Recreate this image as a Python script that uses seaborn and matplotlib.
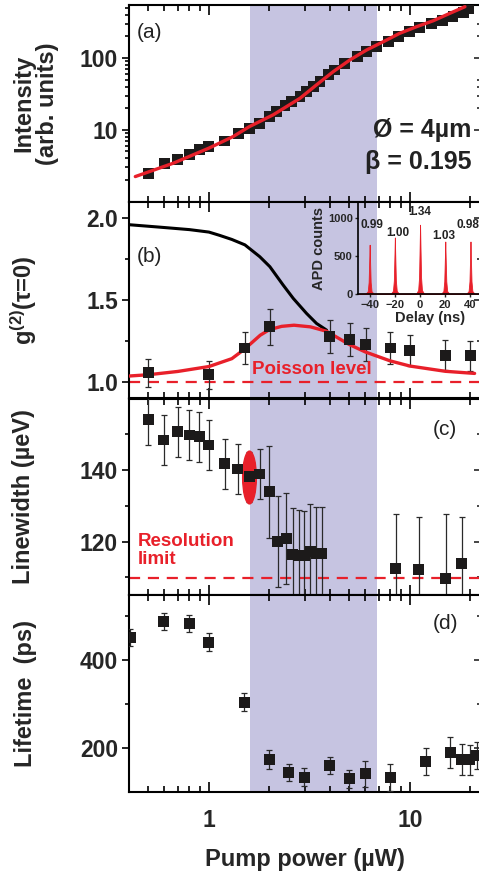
import numpy as np
import matplotlib
matplotlib.use("Agg")
import matplotlib.pyplot as plt
from matplotlib.path import Path
from matplotlib.ticker import FixedLocator, NullFormatter, LogLocator
import seaborn as sns

# ---------------- data ----------------
# (a) intensity vs pump power
pa_power = [0.50, 0.60, 0.70, 0.80, 0.90, 1.00, 1.20, 1.40, 1.59, 1.79, 2.00, 2.17, 2.39,
            2.58, 2.84, 3.06, 3.30, 3.57, 3.92, 4.23, 4.75, 5.50, 6.09, 6.83, 7.80, 8.75,
            10.0, 11.2, 12.8, 14.6, 16.4, 18.5, 19.6]
pa_int = [2.5, 3.4, 3.9, 4.5, 5.3, 5.9, 7.0, 9.0, 10.5, 12.4, 15.3, 18.0, 21.5,
          24.7, 29, 34, 40, 47, 58, 68, 84, 104, 122, 144, 169, 198,
          232, 267, 297, 330, 375, 426, 480]
pa_err = [0.3, 0.4, 0.45, 0.5, 0.55, 0.6, 0.7, 0.9, 1.0, 1.2, 1.5, 1.8, 2.1,
          2.4, 2.9, 3.4, 4, 4.7, 5.8, 6.8, 8.4, 10, 12, 14, 17, 20,
          23, 27, 30, 33, 37, 42, 48]
fit_a_power = [0.43, 0.665, 1.0, 1.32, 1.59, 2.09, 2.84, 3.43, 4.16, 5.03, 6.09, 7.37,
               8.9, 10.8, 13.1, 15.8, 18.8]
fit_a_int = [2.24, 3.44, 5.57, 8.07, 11.1, 16.2, 27.5, 42.2, 64.6, 93.8, 129, 168,
             220, 272, 330, 417, 516]

# (b) g2(0) vs pump power
pb_power = [0.5, 1.0, 1.51, 2.01, 4.0, 5.03, 6.04, 8.0, 10.0, 15.0, 20.0]
pb_g2 = [1.058, 1.045, 1.208, 1.337, 1.276, 1.26, 1.229, 1.208, 1.192, 1.163, 1.16]
pb_err = [0.085, 0.085, 0.10, 0.11, 0.10, 0.10, 0.10, 0.10, 0.095, 0.092, 0.09]
fit_b_power = [0.4, 0.5, 0.7, 1.0, 1.3, 1.5, 1.8, 2.0, 2.3, 2.65, 3.2, 3.85, 5.0, 6.0,
               8.0, 10, 15, 21]
fit_b_g2 = [1.037, 1.045, 1.065, 1.095, 1.143, 1.2, 1.286, 1.32, 1.34, 1.347, 1.337,
            1.31, 1.229, 1.184, 1.129, 1.098, 1.066, 1.053]
therm_power = [0.4, 0.57, 0.8, 1.0, 1.13, 1.3, 1.51, 1.79, 2.01, 2.34, 2.63, 3.06, 3.43, 3.85]
therm_g2 = [1.96, 1.945, 1.93, 1.915, 1.895, 1.87, 1.837, 1.765, 1.704, 1.592, 1.51,
            1.419, 1.358, 1.317]
poisson_level = 1.0

# inset: correlation histogram
inset_delay = [-49, -43, -41.5, -40.8, -40.3, -40, -39.7, -39.2, -38.5, -37,
               -23, -21.5, -20.8, -20.3, -20, -19.7, -19.2, -18.5, -17,
               -3, -1.5, -0.8, -0.3, 0, 0.3, 0.8, 1.5, 3,
               17, 18.5, 19.2, 19.7, 20, 20.3, 20.8, 21.5, 23,
               37, 38.5, 39.2, 39.7, 40, 40.3, 40.8, 41.5, 43, 60]
inset_counts = [8, 12, 40, 160, 460, 650, 460, 160, 40, 12,
                12, 45, 180, 520, 745, 520, 180, 45, 12,
                12, 55, 220, 640, 912, 640, 220, 55, 12,
                12, 42, 170, 480, 692, 480, 170, 42, 12,
                12, 42, 170, 480, 692, 480, 170, 42, 12, 8]
peak_lbl_delay = [-38, -18, 0, 19, 37.8]
peak_lbl_counts = [910, 800, 1085, 760, 910]
peak_lbl_text = ["0.99", "1.00", "1.34", "1.03", "0.98"]

# (c) linewidth vs pump power
pc_power = [0.5, 0.597, 0.70, 0.80, 0.895, 1.0, 1.2, 1.39, 1.59, 1.79, 2.0, 2.2, 2.42,
            2.61, 2.8, 2.98, 3.2, 3.41, 3.64, 8.5, 11.1, 15.05, 18.1]
pc_lw = [154.1, 148.4, 150.7, 149.8, 149.3, 147.0, 141.7, 140.3, 138.1, 138.9, 133.9,
         120.0, 120.9, 116.3, 116.0, 116.0, 117.2, 116.6, 116.6, 112.6, 112.1, 109.6, 114.0]
pc_err = [7, 7, 7, 7, 7, 7, 7, 7, 7, 7, 12.8, 12.8, 12.8, 13, 12.8, 12.6, 13.2, 13.1, 13.1,
          15, 14.8, 18, 12.9]
resolution_limit = 109.8
highlight_power = [1.59]
highlight_lw = [138.1]

# (d) lifetime vs pump power
pd_power = [0.405, 0.597, 0.80, 1.0, 1.50, 2.0, 2.5, 2.98, 4.0, 5.0, 6.0, 8.0, 11.97,
            15.9, 18.1, 19.9, 21.5]
pd_life = [450.5, 486.7, 483, 440, 304.2, 175.1, 144.9, 134.4, 160.9, 130.8, 142, 133.7,
           170, 190.4, 175.1, 173.6, 183.4]
pd_err = [19, 19, 19, 20, 20, 21, 19, 20, 20, 20, 30, 30, 30, 36, 35, 34, 30]

shade_span = (1.6, 6.85)

# ---------------- style ----------------
sns.set_theme(style="ticks")
plt.rcParams["font.family"] = ["Liberation Sans", "DejaVu Sans"]
plt.rcParams["font.weight"] = "bold"
plt.rcParams["axes.labelweight"] = "bold"
plt.rcParams["mathtext.fontset"] = "custom"
plt.rcParams["mathtext.rm"] = "Liberation Sans:bold"
plt.rcParams["mathtext.it"] = "Liberation Sans:bold"

RED = "#e8202a"
SHADE = "#c6c4e1"
SQ = "#1c1a1a"
TICK_FS = 16.5
LAB_FS = 17

fig = plt.figure(figsize=(4.79, 8.73), dpi=100)
left, width = 129 / 479, 352 / 479
h = 196.75 / 873
bottoms = [(873 - 5) / 873 - h * (i + 1) for i in range(4)]
axes = [fig.add_axes([left, b, width, h]) for b in bottoms]
ax_a, ax_b, ax_c, ax_d = axes

for ax in axes:
    ax.set_xscale("log")
    ax.set_xlim(0.4, 22.6)
    ax.axvspan(*shade_span, color=SHADE, lw=0, zorder=0)
    for s in ax.spines.values():
        s.set_linewidth(1.5)
        s.set_color("black")
    ax.xaxis.set_major_locator(FixedLocator([1, 10]))
    ax.xaxis.set_minor_locator(LogLocator(base=10, subs=np.arange(2, 10)))
    ax.xaxis.set_minor_formatter(NullFormatter())
    ax.tick_params(axis="x", which="both", direction="in", top=True, bottom=True,
                   width=1.2, color="black")
    ax.tick_params(axis="x", which="major", length=7)
    ax.tick_params(axis="x", which="minor", length=4)
    ax.tick_params(axis="y", which="both", direction="out", width=1.2, color="black",
                   labelsize=TICK_FS, pad=3)
    ax.tick_params(axis="y", which="major", length=5)
    ax.tick_params(axis="y", which="minor", length=3)
    if ax is not ax_d:
        ax.tick_params(axis="x", labelbottom=False)


def points(ax, x, y, err):
    ax.errorbar(x, y, yerr=err, fmt="none", ecolor="#2a2a2a", elinewidth=0.9,
                capsize=2.5, capthick=0.9, zorder=3)
    sns.scatterplot(x=x, y=y, marker="s", s=62, color=SQ, edgecolor="none",
                    ax=ax, zorder=5, legend=False)


def right_ticks(ax, major, minor):
    sec = ax.secondary_yaxis("right")
    sec.yaxis.set_major_locator(FixedLocator(major))
    sec.yaxis.set_minor_locator(FixedLocator(minor))
    sec.tick_params(which="both", direction="in", labelright=False, width=1.2)
    sec.tick_params(which="major", length=5)
    sec.tick_params(which="minor", length=3)
    sec.spines["right"].set_linewidth(1.5)


# (a)
ax_a.set_yscale("log")
ax_a.set_ylim(1.0, 545)
points(ax_a, pa_power, pa_int, pa_err)
sns.lineplot(x=fit_a_power, y=fit_a_int, color=RED, lw=2.4, ax=ax_a, zorder=6,
             sort=False, estimator=None)
ax_a.yaxis.set_major_locator(FixedLocator([10, 100]))
ax_a.yaxis.set_minor_locator(FixedLocator([2, 3, 4, 5, 6, 7, 8, 9, 20, 30, 40, 50, 60,
                                           70, 80, 90, 200, 300, 400, 500]))
ax_a.yaxis.set_minor_formatter(NullFormatter())
ax_a.set_yticklabels(["10", "100"])
ax_a.set_ylabel("Intensity\n(arb. units)", fontsize=LAB_FS, fontweight="bold",
                linespacing=1.0)
ax_a.yaxis.set_label_coords(-0.2, 0.5)
ax_a.text(0.023, 0.858, "(a)", transform=ax_a.transAxes, fontsize=15,
          fontweight="normal", va="center", color="#222")
ax_a.text(0.972, 0.365, "Ø = 4µm", transform=ax_a.transAxes, fontsize=18,
          ha="right", va="center", color="#222")
ax_a.text(0.972, 0.202, "β = 0.195", transform=ax_a.transAxes, fontsize=18,
          ha="right", va="center", color="#222")
right_ticks(ax_a, [10, 100], [20, 30, 40, 50, 200, 300])

# (b)
ax_b.set_ylim(0.9, 2.1)
ax_b.axhline(poisson_level, color=RED, lw=1.6, ls=(0, (5, 3.5)), zorder=2)
sns.lineplot(x=therm_power, y=therm_g2, color="black", lw=2.2, ax=ax_b, zorder=4,
             sort=False, estimator=None)
sns.lineplot(x=fit_b_power, y=fit_b_g2, color=RED, lw=2.4, ax=ax_b, zorder=4,
             sort=False, estimator=None)
points(ax_b, pb_power, pb_g2, pb_err)
ax_b.yaxis.set_major_locator(FixedLocator([1.0, 1.5, 2.0]))
ax_b.yaxis.set_minor_locator(FixedLocator([1.25, 1.75]))
ax_b.set_yticklabels(["1.0", "1.5", "2.0"])
ax_b.set_ylabel("g$^{\\rm (2)}$(τ=0)", fontsize=LAB_FS, fontweight="bold")
ax_b.yaxis.set_label_coords(-0.255, 0.5)
ax_b.text(0.023, 0.721, "(b)", transform=ax_b.transAxes, fontsize=15,
          fontweight="normal", va="center", color="#222")
ax_b.text(1.64, 1.078, "Poisson level", color=RED, fontsize=13.5, va="center")
right_ticks(ax_b, [1.0, 1.5, 2.0], [1.25, 1.75])

# inset
ax_in = fig.add_axes([358.3 / 479, (873 - 294.3) / 873, 0.30, 92.3 / 873])
ax_in.patch.set_alpha(0)
ax_in.fill_between(inset_delay, inset_counts, color=RED, lw=0.6, zorder=2)
ax_in.set_xlim(-49, 65)
ax_in.set_ylim(0, 1210)
ax_in.set_xticks([-40, -20, 0, 20, 40])
ax_in.set_yticks([0, 500, 1000])
ax_in.tick_params(labelsize=8, length=2.5, width=1, pad=1.5, direction="out")
for s in ["top", "right"]:
    ax_in.spines[s].set_visible(False)
for s in ["left", "bottom"]:
    ax_in.spines[s].set_linewidth(1.2)
    ax_in.spines[s].set_color("black")
ax_in.set_xlabel("Delay (ns)", fontsize=10.5, fontweight="bold", labelpad=0.5)
ax_in.set_ylabel("APD counts", fontsize=10.5, fontweight="bold", labelpad=1)
for d, c, t in zip(peak_lbl_delay, peak_lbl_counts, peak_lbl_text):
    ax_in.text(d, c, t, fontsize=8.5, ha="center", va="center", color="#222")

# (c)
ax_c.set_ylim(105, 160)
ax_c.axhline(resolution_limit, color=RED, lw=1.6, ls=(0, (5, 3.5)), zorder=2)
ell_verts = Path.unit_circle().vertices * np.array([0.26, 1.0])
ell = Path(ell_verts, Path.unit_circle().codes)
ax_c.plot(highlight_power, highlight_lw, marker=ell, markersize=38, color=RED,
          mec=RED, ls="none", zorder=4)
points(ax_c, pc_power, pc_lw, pc_err)
ax_c.yaxis.set_major_locator(FixedLocator([120, 140]))
ax_c.yaxis.set_minor_locator(FixedLocator([110, 130, 150]))
ax_c.set_yticklabels(["120", "140"])
ax_c.set_ylabel("Linewidth (µeV)", fontsize=LAB_FS, fontweight="bold")
ax_c.yaxis.set_label_coords(-0.268, 0.5)
ax_c.text(0.864, 0.843, "(c)", transform=ax_c.transAxes, fontsize=15,
          fontweight="normal", va="center", color="#222")
ax_c.text(0.44, 117.5, "Resolution\nlimit", color=RED, fontsize=13.5, va="center",
          linespacing=1.05)
right_ticks(ax_c, [120, 140], [110, 130, 150])

# (d)
ax_d.set_ylim(101, 546)
points(ax_d, pd_power, pd_life, pd_err)
ax_d.yaxis.set_major_locator(FixedLocator([200, 400]))
ax_d.yaxis.set_minor_locator(FixedLocator([300, 500]))
ax_d.set_yticklabels(["200", "400"])
ax_d.set_ylabel("Lifetime  (ps)", fontsize=LAB_FS, fontweight="bold")
ax_d.yaxis.set_label_coords(-0.262, 0.5)
ax_d.text(0.864, 0.857, "(d)", transform=ax_d.transAxes, fontsize=15,
          fontweight="normal", va="center", color="#222")
ax_d.set_xticklabels(["1", "10"])
ax_d.tick_params(axis="x", labelsize=TICK_FS, pad=12)
ax_d.set_xlabel("Pump power (µW)", fontsize=LAB_FS, fontweight="bold", labelpad=12)
right_ticks(ax_d, [200, 400], [300, 500])

fig.savefig("out.png", dpi=100)
